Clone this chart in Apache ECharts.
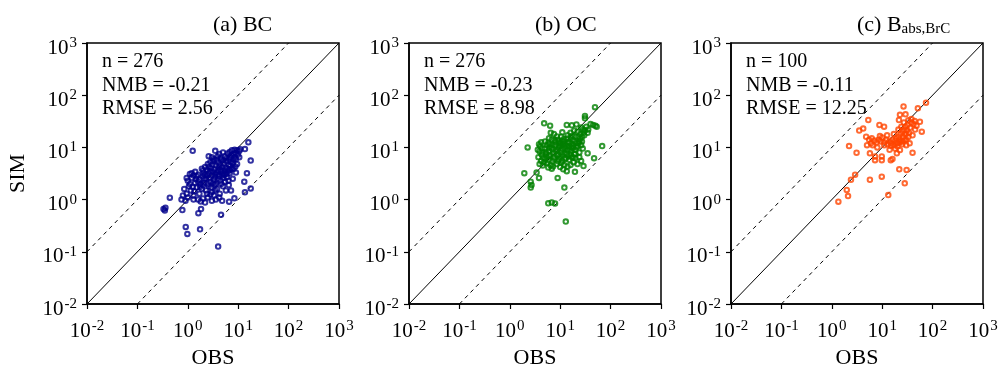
<!DOCTYPE html>
<html>
<head>
<meta charset="utf-8">
<script src="https://cdn.jsdelivr.net/npm/echarts@6/dist/echarts.min.js"></script>
<style>
  html, body { margin: 0; padding: 0; background: #fff; }
  #chart { width: 998px; height: 365px; }
</style>
</head>
<body>
<div id="chart"></div>
<script>
// panel texts
const panelTitles = ['(a) BC', '(b) OC', '(c) B{sub|abs,BrC}'];
const nVals = ['276', '276', '100'];
const nmbVals = ['-0.21', '-0.23', '-0.11'];
const rmseVals = ['2.56', '8.98', '12.25'];
const colors = ['#00008b', '#008000', '#ff4500'];

// reference lines (1:1, 10:1, 1:10)
const lineOne = [[0.01, 0.01], [1000, 1000]];
const lineUp = [[0.01, 0.1], [100, 1000]];
const lineDown = [[0.1, 0.01], [1000, 100]];

// [OBS, SIM]
const bcData = [
  [1.25, 8.6], [15.9, 12.5], [17.7, 5.6], [13.6, 9.3], [0.44, 1.09], [0.33, 0.66], [0.35, 0.62], [0.36, 0.7],
  [0.78, 0.63], [0.91, 0.3], [0.98, 0.22], [1.75, 0.27], [1.83, 0.66], [1.62, 0.55], [4.56, 0.51], [4.0, 0.126],
  [13.2, 2.2], [13.6, 1.38], [17.7, 1.64], [14.9, 3.2], [6.6, 0.91], [8.4, 1.06], [0.75, 1.0], [0.9, 0.95],
  [3.5, 8.6], [4.2, 7.5], [5, 8], [6.2, 7.6], [7.5, 8.8], [8.5, 9], [9.5, 8.8], [10.5, 8.5],
  [9, 7.8], [11, 9.2], [7, 6.5], [5.5, 6.8], [4.5, 6.2], [3, 6.5], [2.6, 6.8], [6.8, 8.2],
  [1.2, 3.2], [1.4, 3.4], [1.6, 3.0], [1.9, 3.9], [2.2, 4.2], [2.5, 4.8], [2.8, 5.2], [3.2, 5.5],
  [3.6, 4.5], [4, 5.2], [4.6, 5.8], [5.2, 4.9], [5.8, 5.5], [6.5, 4.6], [7.2, 5.2], [8, 5.8],
  [9, 6], [3.4, 3.8], [2.9, 4.0], [4.8, 4.2], [6, 3.9], [7.5, 4.0], [9.5, 4.8], [10.5, 6.5],
  [2, 3.6], [1.1, 3.1], [1.5, 2.8], [1, 2.3], [1.2, 2.6], [1.4, 2.1], [1.7, 2.4], [2, 2.8],
  [2.3, 2.5], [2.6, 3.2], [3, 2.9], [3.3, 2.4], [3.7, 3.3], [4.2, 2.8], [4.7, 3.4], [5.3, 3.0],
  [6, 2.7], [6.8, 3.2], [7.8, 2.5], [9, 3.3], [2.1, 2.1], [2.8, 2.2], [3.6, 2.0], [4.4, 2.3],
  [5.5, 2.2], [1.1, 2.0], [1.3, 2.9], [0.95, 2.6], [0.85, 1.6], [0.95, 1.3], [1.05, 1.8], [1.15, 1.5],
  [1.3, 1.2], [1.5, 1.7], [1.7, 1.3], [2, 1.9], [2.3, 1.5], [2.6, 1.8], [3, 1.4], [3.4, 1.9],
  [3.8, 1.6], [4.3, 1.3], [5, 1.8], [5.7, 1.5], [6.5, 1.9], [1.3, 1.0], [1.6, 1.0], [2, 1.05],
  [2.5, 1.1], [3, 0.95], [3.6, 1.0], [4.2, 1.1], [4.8, 0.95], [2.2, 0.88], [1.8, 0.92], [3.3, 1.2],
  [2.8, 1.25], [7.2, 1.5], [0.8, 1.2], [1.0, 1.1], [2.4, 3.7], [3.9, 6.8], [5.4, 3.6], [8.8, 4.3],
  [1.8, 2.0], [2.1, 2.5], [2.4, 2.9], [2.7, 2.6], [3.1, 3.4], [3.5, 2.7], [3.9, 3.0], [4.5, 3.7],
  [5, 3.2], [5.6, 4.1], [6.3, 3.5], [7, 4.5], [7.8, 5], [8.5, 6.5], [9.8, 7.2], [2.2, 3.0],
  [2.5, 2.0], [2.9, 1.7], [3.2, 2.1], [3.5, 1.5], [4.0, 2.5], [4.6, 2.0], [5.1, 2.6], [5.8, 3.1],
  [6.4, 2.3], [1.6, 2.2], [1.9, 1.6], [2.4, 1.3], [1.35, 1.45], [1.75, 1.75], [2.6, 4.2], [3.1, 4.7],
  [3.7, 5.8], [4.3, 4.6], [5.0, 5.6], [5.9, 6.2], [6.6, 5.9], [7.4, 7.2], [8.2, 7.5], [3.3, 6.0],
  [4.0, 3.6], [4.9, 2.9], [6.9, 3.7], [8.1, 3.9], [2.05, 3.2], [1.45, 2.45], [1.25, 1.75], [3.45, 3.05],
  [2.75, 3.55], [4.15, 4.15]
];

const ocData = [
  [49, 59], [4.8, 29], [6.3, 26], [13.5, 27], [17, 26.5], [21, 27.5], [31, 40], [31, 36],
  [45, 27], [50, 26], [53, 25], [2.26, 10], [68, 10.6], [47, 6.2], [35, 7.7], [1.94, 3.2],
  [2.6, 2.2], [2.6, 1.7], [2.7, 1.9], [3.8, 2.6], [3.4, 3.3], [8.9, 2.6], [12.1, 1.7], [5.8, 0.85],
  [6.8, 0.88], [7.9, 0.84], [12.9, 0.38], [29, 4.4], [19.6, 3.4], [40, 28], [36, 22],
  [5, 13], [6, 15], [7.5, 18], [9, 14], [10.5, 16], [12, 13], [14, 17], [16, 19],
  [18, 14], [20, 16], [22, 20], [25, 18], [28, 22], [30, 17], [24, 13], [8, 12.5],
  [6.5, 19], [11, 19.5], [4.2, 12.5], [15, 12.5], [26, 24], [19, 21], [33, 25], [35, 19],
  [3.6, 9], [4, 10.5], [4.5, 8], [5, 9.5], [5.5, 11], [6, 8.5], [6.7, 10], [7.3, 7.8],
  [8, 11], [8.8, 9], [9.6, 10.5], [10.5, 8], [11.5, 11.5], [12.5, 9.5], [13.5, 7.5], [15, 10.5],
  [16.5, 8.5], [18, 11], [20, 9], [22, 10.5], [24, 8], [26, 11], [28, 9.5], [4.3, 7.2],
  [5.2, 7.5], [7, 9.2], [9.2, 7.3], [12, 10.2], [14, 8.8], [17, 10], [19, 7.5], [21, 12],
  [3.8, 11.5], [6.2, 11.5], [10, 12], [3.7, 6.5], [4.2, 5.5], [4.5, 4.5], [5, 6], [5.5, 5],
  [6, 6.8], [6.5, 4.5], [7, 5.5], [7.5, 6.5], [8.5, 4.8], [9.5, 6], [10, 4.2], [11, 5.5],
  [12, 4.6], [13, 6.2], [14, 4.3], [15, 5.8], [16, 4.6], [17, 6.5], [18.5, 5.2], [20, 6.2],
  [22, 4.8], [24, 6.5], [26, 5.5], [3.9, 4.8], [4.8, 5.2], [6.8, 3.9], [11.5, 3.8], [13.5, 3.5],
  [5.8, 4.1],
  [5.2, 8.2], [6.1, 9.8], [7.1, 11.2], [8.2, 8.4], [9.3, 9.8], [10.2, 11], [11.2, 9.2], [12.2, 7.8],
  [13.2, 10.8], [14.5, 12], [15.5, 9.2], [16.5, 11.8], [18, 9.8], [19.5, 13], [21, 10], [23, 12],
  [25, 14.5], [27, 16], [29, 19], [31, 21], [4.6, 6.3], [5.4, 6.6], [6.3, 7.2], [7.6, 6.0],
  [8.8, 7.0], [9.9, 6.6], [11, 7.2], [12.5, 6.0], [14.2, 6.8], [16, 7.2], [18, 6.5], [20, 7.5],
  [7.8, 13.8], [9.5, 12.5], [11.8, 14.5], [13.8, 14.8], [16.2, 15.5], [5.8, 12.2], [4.4, 9.6], [6.8, 14.2],
  [8.6, 16.2], [10.8, 13.4], [17.5, 16.8], [23, 16], [27, 13], [3.9, 8.3], [5.9, 5.7], [9, 5.4],
  [10.6, 5.0], [7.2, 4.3]
];

const brcData = [
  [74, 72], [26.5, 61], [51, 56], [22.5, 42], [21.5, 33.5], [5.3, 33.5], [8.8, 27], [10.9, 25],
  [4.2, 23], [3.5, 21], [29, 43], [56, 31], [61, 20], [2.2, 10.6], [3.1, 7.9], [5.7, 7.7],
  [40, 7.9], [7.2, 6.7], [7.2, 5.7], [9.8, 6.7], [9.8, 5.7], [14.8, 5.7], [16, 6.0], [19.5, 7.7],
  [22.5, 8.9], [2.9, 3.0], [2.4, 2.4], [5.7, 2.4], [9.8, 2.75], [21.8, 3.8], [30.5, 3.7], [28, 2.05],
  [1.98, 1.53], [2.1, 1.17], [1.35, 0.91], [13.2, 1.22], [33, 15.9],
  [4.8, 16], [5.5, 14], [6, 12], [6.5, 11], [7, 13.5], [7.8, 12.5], [8.5, 14], [9.3, 13],
  [10, 15.5], [11, 12.5], [12, 14], [13, 11.5], [14, 13], [15, 12], [16, 14], [17, 11],
  [18, 13.5], [19, 15], [20, 12], [21, 16], [22, 14], [23, 18], [24, 13], [25, 20],
  [26, 16], [27, 22], [28, 18], [29, 25], [30, 14], [31, 21], [32, 27], [34, 19],
  [36, 24], [38, 30], [40, 17], [42, 28], [45, 22], [48, 26], [35, 12], [30, 11],
  [25, 11.5], [20, 10.5], [15, 10.8], [11, 11], [6.2, 15], [5, 11], [12.5, 17], [17, 18],
  [9, 16.5], [27, 30], [33, 33], [38, 35], [44, 32], [24, 25], [21, 22], [26, 13],
  [18, 9.5], [14, 9], [8, 10], [30, 18], [22, 12.5], [28, 14], [19, 12]
];

const allData = [bcData, ocData, brcData];
const gridLefts = [87, 409, 731];
const gridTop = 43, gridW = 252, gridH = 261;
const FONT = 'Liberation Serif';

const supLabel = (v) => {
  const e = Math.round(Math.log10(v));
  return '10{sup|' + e + '}';
};
const labelRich = {
  sup: { fontSize: 15, fontFamily: FONT, color: '#000', padding: [0, 0, 10, 1] }
};

const grids = [], xAxes = [], yAxes = [], series = [], graphics = [];

gridLefts.forEach((left, i) => {
  grids.push({
    left: left, top: gridTop, width: gridW, height: gridH,
    containLabel: false, outerBoundsMode: 'none',
    show: true, borderColor: '#000', borderWidth: 1.5, backgroundColor: 'transparent'
  });
  const axisCommon = {
    type: 'log', logBase: 10, min: 0.01, max: 1000, gridIndex: i,
    splitLine: { show: false },
    minorTick: { show: false },
    axisLine: { show: true, lineStyle: { color: '#000', width: 1.5 } },
    axisTick: { show: true, length: 5, lineStyle: { color: '#000', width: 1.2 } }
  };
  xAxes.push(Object.assign({}, axisCommon, {
    name: 'OBS', nameLocation: 'middle', nameGap: 37,
    nameTextStyle: { fontFamily: FONT, fontSize: 22, color: '#000' },
    axisLabel: {
      margin: 12, formatter: supLabel, fontFamily: FONT, fontSize: 21, color: '#000', rich: labelRich,
      padding: [3, 0, 0, 0]
    }
  }));
  yAxes.push(Object.assign({}, axisCommon, {
    name: i === 0 ? 'SIM' : '', nameLocation: 'middle', nameGap: 58,
    nameTextStyle: { fontFamily: FONT, fontSize: 22, color: '#000' },
    axisLabel: {
      margin: 10, formatter: supLabel, fontFamily: FONT, fontSize: 21, color: '#000', rich: labelRich,
      padding: [10, 0, 0, 0]
    }
  }));

  const lineCommon = {
    type: 'line', xAxisIndex: i, yAxisIndex: i, symbol: 'none', silent: true,
    clip: true, animation: false, z: 1
  };
  series.push(Object.assign({}, lineCommon, { data: lineOne, lineStyle: { color: '#000', width: 1 } }));
  series.push(Object.assign({}, lineCommon, { data: lineUp, lineStyle: { color: '#000', width: 1, type: [4, 4] } }));
  series.push(Object.assign({}, lineCommon, { data: lineDown, lineStyle: { color: '#000', width: 1, type: [4, 4] } }));
  series.push({
    type: 'scatter', xAxisIndex: i, yAxisIndex: i, data: allData[i],
    symbol: 'circle', symbolSize: 4.5, animation: false, z: 3,
    itemStyle: { color: 'rgba(0,0,0,0)', borderColor: colors[i], borderWidth: 2 }
  });

  graphics.push({
    type: 'text', left: left + gridW / 2, top: 14,
    style: {
      text: panelTitles[i], fontFamily: FONT, fontSize: 22, fill: '#000', textAlign: 'center',
      rich: { sub: { fontSize: 15, fontFamily: FONT, padding: [8, 0, 0, 0] } }
    }
  });
  const lines = ['n = ' + nVals[i], 'NMB = ' + nmbVals[i], 'RMSE = ' + rmseVals[i]];
  lines.forEach((t, k) => {
    graphics.push({
      type: 'text', left: left + 15, top: 52 + k * 23.5,
      style: { text: t, fontFamily: FONT, fontSize: 20, fill: '#000' }
    });
  });
});

const chart = echarts.init(document.getElementById('chart'), null, { renderer: 'canvas' });
chart.setOption({
  backgroundColor: '#fff',
  animation: false,
  grid: grids,
  xAxis: xAxes,
  yAxis: yAxes,
  series: series,
  graphic: graphics
});
</script>
</body>
</html>
